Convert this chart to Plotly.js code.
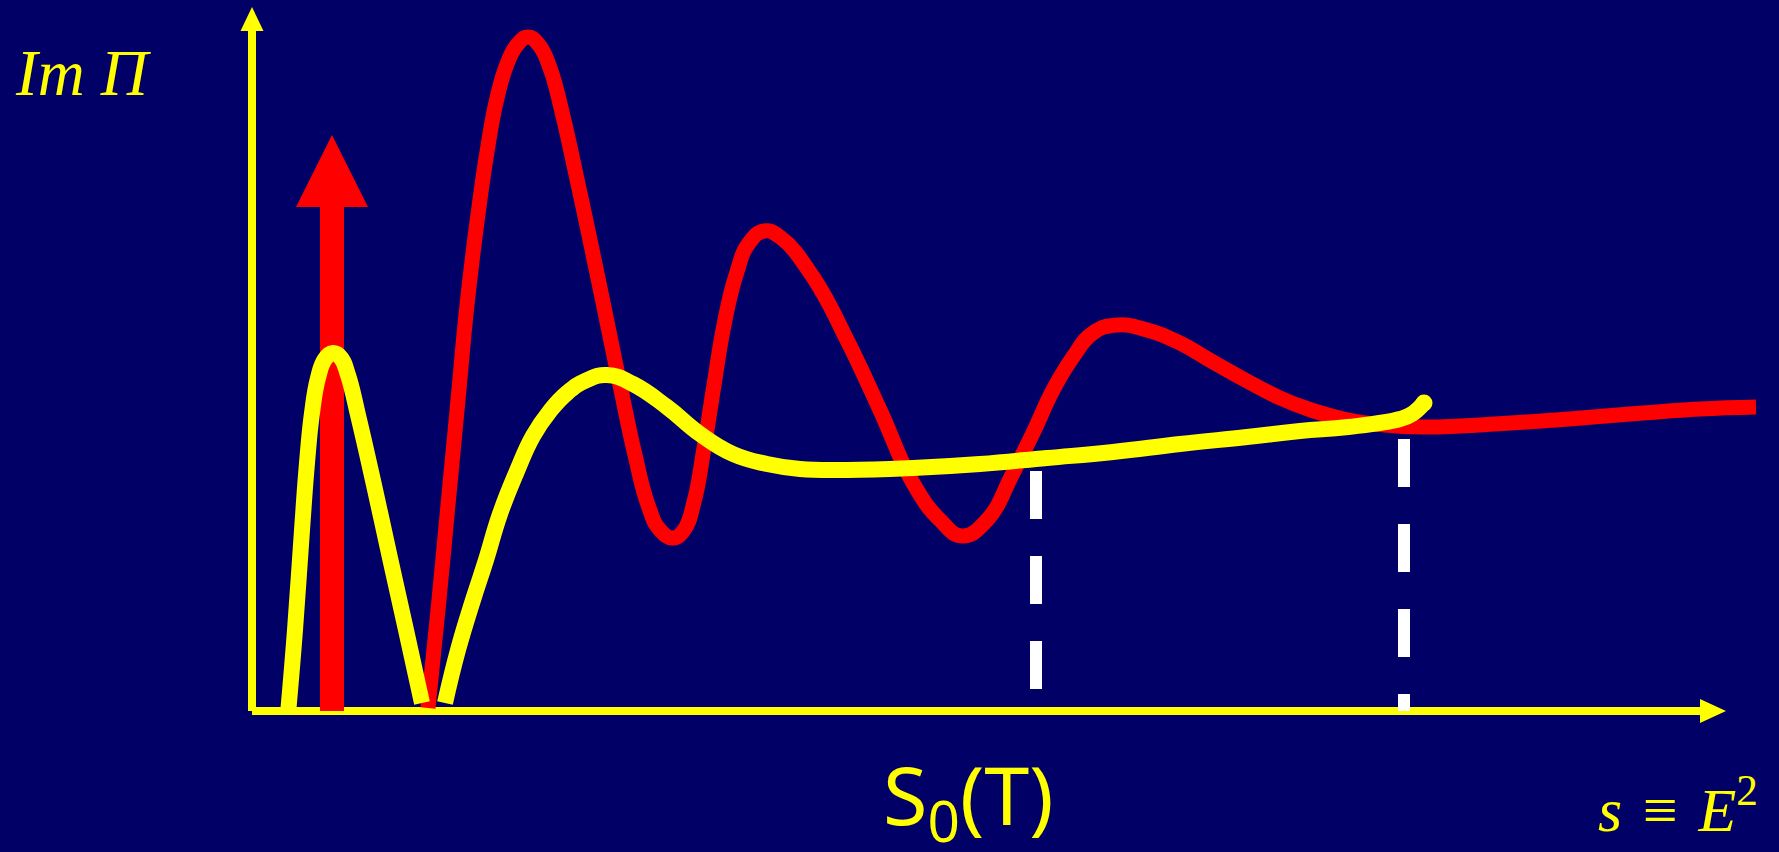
<!DOCTYPE html>
<html>
<head>
<meta charset="utf-8">
<script src="https://cdn.plot.ly/plotly-3.0.1.min.js"></script>
<style>
  html, body { margin: 0; padding: 0; background: #000066; }
  #chart { width: 1779px; height: 852px; }
</style>
</head>
<body>
<div id="chart"></div>
<script>
// ---- data (arbitrary units: s along x, Im Π along y) ----
// red curve: full spectral function
const redS  = [1.76, 1.86, 1.96, 2.06, 2.15, 2.25, 2.35, 2.45, 2.55, 2.65, 2.76, 2.87, 2.98, 3.10, 3.23, 3.38, 3.53, 3.68,
               3.83, 3.96, 4.08, 4.21, 4.32, 4.42, 4.52, 4.62, 4.72, 4.84, 4.97, 5.12, 5.28, 5.61, 5.95, 6.28, 6.61, 6.88,
               7.10, 7.35, 7.61, 7.81, 8.01, 8.21, 8.41, 8.65, 8.95, 9.28, 9.61, 9.95, 10.28, 10.59, 10.96, 11.33, 11.70,
               12.08, 12.43, 13.17, 13.91, 14.48, 15.04];
const redIm = [0.03, 1.01, 2.06, 3.11, 4.06, 4.89, 5.59, 6.13, 6.47, 6.66, 6.74, 6.66, 6.43, 5.99, 5.41, 4.71, 3.99, 3.26,
               2.56, 2.06, 1.81, 1.73, 1.81, 2.09, 2.63, 3.26, 3.86, 4.36, 4.68, 4.80, 4.74, 4.34, 3.71, 3.01, 2.28, 1.91,
               1.75, 1.91, 2.38, 2.78, 3.21, 3.54, 3.78, 3.86, 3.81, 3.68, 3.49, 3.30, 3.13, 3.01, 2.91, 2.86, 2.84,
               2.85, 2.87, 2.92, 2.98, 3.02, 3.04];

// yellow curve: two pieces separated by a gap (null)
const yellowS  = [0.36, 0.43, 0.50, 0.55, 0.60, 0.66, 0.73, 0.81, 0.89, 0.96, 1.06, 1.22, 1.38, 1.54, 1.70,
                  null,
                  1.93, 2.06, 2.21, 2.34, 2.48, 2.65, 2.81, 2.98, 3.15, 3.35, 3.55, 3.81, 4.15, 4.48, 4.81, 5.15, 5.48,
                  5.95, 6.61, 7.28, 7.95, 8.61, 9.28, 9.95, 10.48, 10.96, 11.48, 11.60, 11.72];
const yellowIm = [-0.03, 0.81, 1.81, 2.48, 2.98, 3.33, 3.52, 3.58, 3.53, 3.36, 2.96, 2.26, 1.53, 0.81, 0.08,
                  null,
                  0.08, 0.61, 1.11, 1.51, 1.97, 2.40, 2.75, 3.00, 3.18, 3.31, 3.36, 3.27, 3.04, 2.77, 2.57, 2.47, 2.42,
                  2.41, 2.43, 2.47, 2.53, 2.59, 2.67, 2.74, 2.80, 2.84, 2.92, 2.97, 3.08];

// delta-function (red arrow) position and height
const deltaS = [0.80];
const deltaHeight = [5.76];

// thresholds s0 (white dashed lines) and where they start below the curve
const thresholdS   = [7.84, 11.52];
const thresholdTop = [2.40, 2.72];

// labels
const yLabel = "<i>Im Π</i>";
const xLabel = "<i>s</i>\u2004≡\u2004<i>E</i><sup>2</sup>";
const s0Label = "S<sub>0</sub>(T)";

// ---- styles ----
const BG = "#000066", RED = "#ff0000", YEL = "#ffff00", WHITE = "#ffffff";
const W = 1779, H = 852;

const traces = [];
thresholdS.forEach((s, i) => {
  traces.push({
    x: [s, s], y: [thresholdTop[i], 0], mode: "lines",
    line: { color: WHITE, width: 12, dash: "48px,37px", simplify: false },
    hoverinfo: "skip"
  });
});
traces.push({
  x: redS, y: redIm, mode: "lines",
  line: { color: RED, width: 15, shape: "spline", smoothing: 1.3, simplify: false },
  hoverinfo: "skip"
});
traces.push({
  x: yellowS, y: yellowIm, mode: "lines", connectgaps: false,
  line: { color: YEL, width: 16, shape: "spline", smoothing: 1.3, simplify: false },
  hoverinfo: "skip"
});
traces.push({
  x: [yellowS[yellowS.length - 1]], y: [yellowIm[yellowIm.length - 1]], mode: "markers",
  marker: { color: YEL, size: 17, line: { width: 0 } },
  hoverinfo: "skip"
});

// axis arrows and the delta arrow as shapes (below the curves)
const shapes = [];
shapes.push({ type: "line", xref: "x", yref: "y", x0: 0, y0: 0, x1: 0, y1: 6.84,
  line: { color: YEL, width: 8 }, layer: "below" });
shapes.push({ type: "path", xref: "x", yref: "y", path: "M -0.115,6.80 L 0.115,6.80 L 0,7.04 Z",
  fillcolor: YEL, line: { width: 0 }, layer: "below" });
shapes.push({ type: "line", xref: "x", yref: "y", x0: 0, y0: 0, x1: 14.52, y1: 0,
  line: { color: YEL, width: 8 }, layer: "below" });
shapes.push({ type: "path", xref: "x", yref: "y", path: "M 14.48,0.12 L 14.48,-0.12 L 14.74,0 Z",
  fillcolor: YEL, line: { width: 0 }, layer: "below" });
deltaS.forEach((s, i) => {
  const h = deltaHeight[i], head = 0.72, hw = 0.36, sw = 0.12;
  const p = `M ${s - sw},0 L ${s + sw},0 L ${s + sw},${h - head} L ${s + hw},${h - head} L ${s},${h} ` +
            `L ${s - hw},${h - head} L ${s - sw},${h - head} Z`;
  shapes.push({ type: "path", xref: "x", yref: "y", path: p, fillcolor: RED, line: { width: 0 }, layer: "below" });
});

const annotations = [
  { text: yLabel, xref: "paper", yref: "paper", x: 13 / W, y: 1 - 111 / H, xanchor: "left", yanchor: "bottom",
    showarrow: false, font: { family: "Liberation Serif, Times New Roman, serif", size: 65, color: YEL } },
  { text: xLabel, xref: "paper", yref: "paper", x: 1678 / W, y: 1 - 846 / H, xanchor: "center", yanchor: "bottom",
    showarrow: false, font: { family: "Liberation Serif, Times New Roman, serif", size: 62, color: YEL } },
  { text: s0Label, xref: "paper", yref: "paper", x: 968 / W, y: 1 - 736 / H, xanchor: "center", yanchor: "top",
    showarrow: false, font: { family: "Noto Sans, Open Sans, sans-serif", size: 81, color: YEL } }
];

const layout = {
  width: W, height: H,
  margin: { l: 0, r: 0, t: 0, b: 0, pad: 0 },
  paper_bgcolor: BG, plot_bgcolor: BG,
  showlegend: false,
  xaxis: { range: [-2.52, 15.27], visible: false, fixedrange: true },
  yaxis: { range: [-1.41, 7.11], visible: false, fixedrange: true },
  shapes: shapes,
  annotations: annotations
};

Plotly.newPlot("chart", traces, layout, { displayModeBar: false, staticPlot: true });
</script>
</body>
</html>
